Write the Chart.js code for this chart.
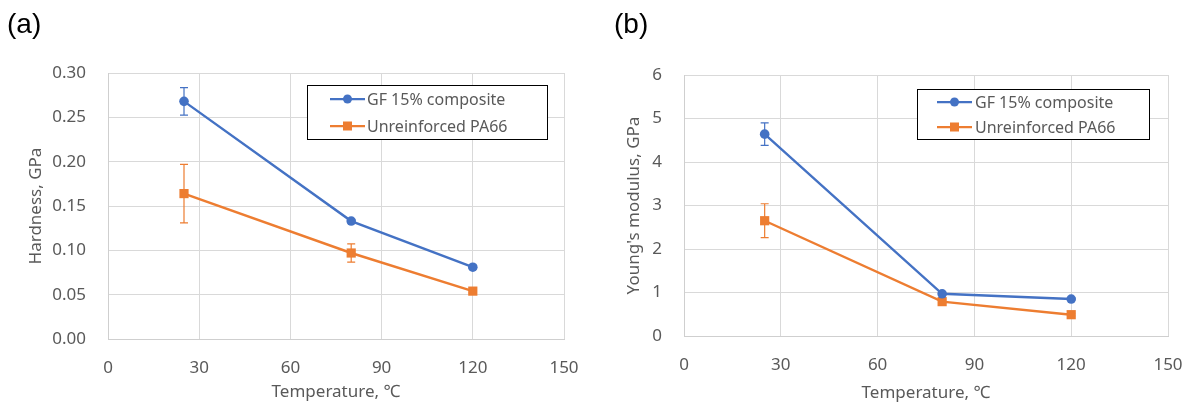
<!DOCTYPE html>
<html>
<head>
<meta charset="utf-8">
<script src="https://cdn.jsdelivr.net/npm/chart.js@4.4.0/dist/chart.umd.min.js"></script>
<style>
  html, body { margin: 0; padding: 0; background: #fff; }
  body { width: 1182px; height: 404px; position: relative; overflow: hidden; }
  .panel { position: absolute; top: 0; width: 591px; height: 404px; }
  .tag { position: absolute; top: 10px; font-family: "Liberation Sans", Arial, sans-serif; font-size: 28px; line-height: 1; color: #000; }
</style>
</head>
<body>
<div class="panel" style="left:0"><canvas id="ca" width="591" height="404"></canvas></div>
<div class="panel" style="left:591px"><canvas id="cb" width="591" height="404"></canvas></div>
<div class="tag" style="left:7px">(a)</div>
<div class="tag" style="left:614px">(b)</div>
<script>
// ---- data ----
const temperatures = [25, 80, 120];
const xTicks = [0, 30, 60, 90, 120, 150];
const seriesNames = ["GF 15% composite", "Unreinforced PA66"];

const hardnessGF = [0.268, 0.133, 0.081];
const hardnessGFErr = [0.0156, 0.002, 0.002];
const hardnessPA = [0.164, 0.097, 0.054];
const hardnessPAErr = [0.033, 0.0102, 0.002];
const hardnessTicks = [0, 0.05, 0.10, 0.15, 0.20, 0.25, 0.30];

const modulusGF = [4.64, 0.97, 0.85];
const modulusGFErr = [0.26, 0.04, 0.03];
const modulusPA = [2.65, 0.79, 0.49];
const modulusPAErr = [0.39, 0.04, 0.03];
const modulusTicks = [0, 1, 2, 3, 4, 5, 6];

// ---- style ----
const BLUE = '#4472C4', ORANGE = '#ED7D31', TXT = '#595959', GRID = '#d9d9d9';
const FONT = "'Noto Sans', 'Noto Sans CJK JP', sans-serif";

const errorBars = {
  id: 'errorBars',
  beforeDatasetsDraw(chart) {
    const ctx = chart.ctx, xs = chart.scales.x, ys = chart.scales.y;
    chart.data.datasets.forEach(ds => {
      if (!ds.errors) return;
      ctx.save();
      ctx.strokeStyle = ds.borderColor;
      ctx.lineWidth = 1.2;
      ds.data.forEach((p, i) => {
        const e = ds.errors[i];
        const x = xs.getPixelForValue(p.x);
        const y1 = ys.getPixelForValue(p.y + e), y2 = ys.getPixelForValue(p.y - e);
        ctx.beginPath();
        ctx.moveTo(x, y1); ctx.lineTo(x, y2);
        ctx.moveTo(x - 4, y1); ctx.lineTo(x + 4, y1);
        ctx.moveTo(x - 4, y2); ctx.lineTo(x + 4, y2);
        ctx.stroke();
      });
      ctx.restore();
    });
  }
};

const boxLegend = {
  id: 'boxLegend',
  afterDraw(chart, args, o) {
    const ctx = chart.ctx;
    ctx.save();
    ctx.fillStyle = '#fff';
    ctx.fillRect(o.left, o.top, o.width, o.height);
    ctx.strokeStyle = '#000';
    ctx.lineWidth = 1;
    ctx.strokeRect(o.left + 0.5, o.top + 0.5, o.width, o.height);
    ctx.font = "16px " + FONT;
    ctx.textBaseline = 'middle';
    chart.data.datasets.forEach((ds, i) => {
      const y = o.top + o.rows[i];
      const x1 = o.left + o.lineStart, x2 = o.left + o.lineEnd, xm = (x1 + x2) / 2;
      ctx.strokeStyle = ds.borderColor;
      ctx.lineWidth = 2.25;
      ctx.beginPath(); ctx.moveTo(x1, y); ctx.lineTo(x2, y); ctx.stroke();
      ctx.fillStyle = ds.borderColor;
      if (ds.pointStyle === 'rect') ctx.fillRect(xm - 4.5, y - 4.5, 9, 9);
      else { ctx.beginPath(); ctx.arc(xm, y, 4.5, 0, Math.PI * 2); ctx.fill(); }
      ctx.fillStyle = TXT;
      ctx.fillText(ds.label, o.left + o.textStart, y + 1);
    });
    ctx.restore();
  }
};

function makeDataset(label, xs, ys, errs, color, style) {
  return {
    label, errors: errs,
    data: xs.map((x, i) => ({ x, y: ys[i] })),
    showLine: true, borderColor: color, backgroundColor: color,
    borderWidth: 2.4, tension: 0,
    pointStyle: style, pointRadius: style === 'rect' ? 6.5 : 4.8,
    pointHoverRadius: style === 'rect' ? 6.5 : 4.8, pointBorderWidth: 0
  };
}

function makeChart(id, cfg) {
  return new Chart(document.getElementById(id), {
    type: 'scatter',
    data: { datasets: [
      makeDataset(seriesNames[0], temperatures, cfg.gf, cfg.gfErr, BLUE, 'circle'),
      makeDataset(seriesNames[1], temperatures, cfg.pa, cfg.paErr, ORANGE, 'rect')
    ]},
    options: {
      responsive: false, animation: false, devicePixelRatio: 1,
      layout: { padding: { top: cfg.padTop, right: cfg.padRight, left: 0, bottom: 0 } },
      plugins: { legend: { display: false }, tooltip: { enabled: false }, boxLegend: cfg.legend },
      scales: {
        x: {
          type: 'linear', min: xTicks[0], max: xTicks[xTicks.length - 1],
          afterBuildTicks: s => { s.ticks = xTicks.map(v => ({ value: v })); },
          afterFit: s => { s.height = cfg.xHeight; s.paddingLeft = 0; s.paddingRight = 0; },
          grid: { color: GRID, drawTicks: false },
          border: { color: '#cfcfcf' },
          ticks: { padding: 19, color: TXT, font: { family: FONT, size: 17 } },
          title: { display: true, text: 'Temperature, ℃', color: TXT, font: { family: FONT, size: 17 }, padding: { top: 0, bottom: cfg.xTitlePadBottom } }
        },
        y: {
          type: 'linear', min: cfg.yTicks[0], max: cfg.yTicks[cfg.yTicks.length - 1],
          afterBuildTicks: s => { s.ticks = cfg.yTicks.map(v => ({ value: v })); },
          afterFit: s => { s.width = cfg.yWidth; s.paddingTop = 0; s.paddingBottom = 0; },
          grid: { color: GRID, drawTicks: false },
          border: { color: '#cfcfcf' },
          ticks: { padding: 22, color: TXT, font: { family: FONT, size: 17 }, callback: v => v.toFixed(cfg.decimals) },
          title: { display: true, text: cfg.yTitle, color: TXT, font: { family: FONT, size: 17 }, padding: { top: cfg.yTitlePadTop, bottom: 0 } }
        }
      }
    },
    plugins: [errorBars, boxLegend]
  });
}

makeChart('ca', {
  gf: hardnessGF, gfErr: hardnessGFErr, pa: hardnessPA, paErr: hardnessPAErr,
  yTicks: hardnessTicks, decimals: 2, yTitle: 'Hardness, GPa',
  padTop: 73, padRight: 27, yWidth: 108, xHeight: 65, xTitlePadBottom: 1.8, yTitlePadTop: 25.8,
  legend: { left: 307, top: 85, width: 240, height: 54, rows: [14, 41], lineStart: 23, lineEnd: 58, textStart: 60 }
});

makeChart('cb', {
  gf: modulusGF, gfErr: modulusGFErr, pa: modulusPA, paErr: modulusPAErr,
  yTicks: modulusTicks, decimals: 0, yTitle: "Young's modulus, GPa",
  padTop: 75, padRight: 14, yWidth: 93, xHeight: 68, xTitlePadBottom: 0.8, yTitlePadTop: 32.8,
  legend: { left: 326, top: 89, width: 232, height: 50, rows: [13, 38], lineStart: 20, lineEnd: 55, textStart: 58 }
});
</script>
</body>
</html>
